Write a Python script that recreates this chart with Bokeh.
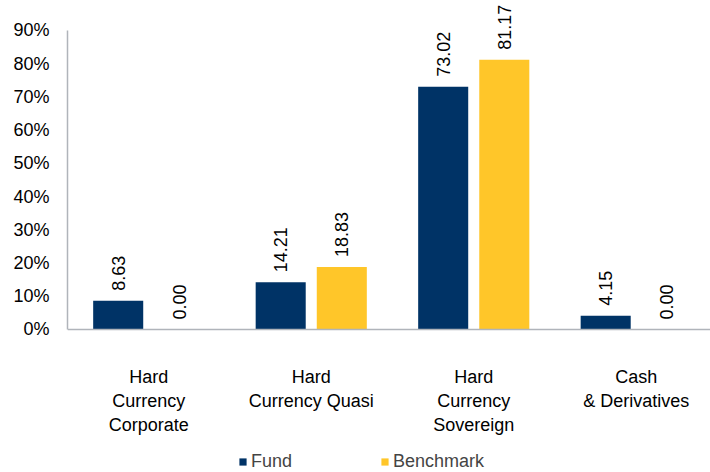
import numpy as np
from bokeh.plotting import figure
from bokeh.models import ColumnDataSource, Range1d, FixedTicker, LabelSet, Legend, LegendItem
from bokeh.core.properties import value
from bokeh.embed import file_html
from bokeh.resources import INLINE

categories = ["Hard\nCurrency\nCorporate", "Hard\nCurrency Quasi", "Hard\nCurrency\nSovereign", "Cash\n& Derivatives"]
fund = [8.63, 14.21, 73.02, 4.15]
benchmark = [0.00, 18.83, 81.17, 0.00]
y_ticks = [0, 10, 20, 30, 40, 50, 60, 70, 80, 90]
series_names = ["Fund", "Benchmark"]
colors = ["#003366", "#FFC629"]

FONT = "Liberation Sans"
FS = "18px"

xs = np.arange(len(categories))
off = 0.188
bw = 0.308

p = figure(width=710, height=472, output_backend="svg", toolbar_location=None,
           x_range=Range1d(-0.5, 3.457), y_range=Range1d(-43.04, 98.1),
           min_border_left=67, min_border_top=3, min_border_bottom=0, min_border_right=0)
p.outline_line_color = None
p.xgrid.visible = False
p.ygrid.visible = False

src_f = ColumnDataSource(dict(x=xs - off, top=fund, lab=[f"{v:.2f}" for v in fund]))
src_b = ColumnDataSource(dict(x=xs + off, top=benchmark, lab=[f"{v:.2f}" for v in benchmark]))
rf = p.vbar(x="x", top="top", width=bw, source=src_f, fill_color=colors[0], line_color=None)
rb = p.vbar(x="x", top="top", width=bw, source=src_b, fill_color=colors[1], line_color=None)

for src in (src_f, src_b):
    ls = LabelSet(x="x", y="top", text="lab", source=src, angle=np.pi / 2,
                  text_align="left", text_baseline="middle", y_offset=10,
                  text_font=value(FONT), text_font_size=value(FS), text_color="#000000")
    p.add_layout(ls)

p.yaxis.ticker = FixedTicker(ticks=y_ticks)
p.yaxis.major_label_overrides = {t: f"{t}%" for t in y_ticks}
p.yaxis.bounds = (0, 90)
p.xaxis.ticker = FixedTicker(ticks=list(xs))
p.xaxis.major_label_overrides = {int(i): c for i, c in zip(xs, categories)}
p.xaxis.fixed_location = 0
for ax in (p.xaxis, p.yaxis):
    ax.axis_line_color = "#B0B4BA"
    ax.axis_line_width = 1.5
    ax.major_tick_line_color = None
    ax.minor_tick_line_color = None
    ax.major_label_text_font = FONT
    ax.major_label_text_font_size = FS
    ax.major_label_text_color = "#000000"
p.yaxis.major_label_standoff = 12
p.xaxis.major_label_standoff = 32

legend = Legend(items=[LegendItem(label=series_names[0], renderers=[rf]),
                       LegendItem(label=series_names[1], renderers=[rb])],
                orientation="horizontal", location=(171, 0))
legend.glyph_width = 9
legend.glyph_height = 9
legend.label_height = 18
legend.label_text_font = FONT
legend.label_text_font_size = FS
legend.label_standoff = 4
legend.spacing = 88
legend.padding = 0
legend.margin = 0
legend.border_line_color = None
legend.background_fill_alpha = 0
p.add_layout(legend, "center")

open("out.html", "w").write(file_html(p, INLINE))
